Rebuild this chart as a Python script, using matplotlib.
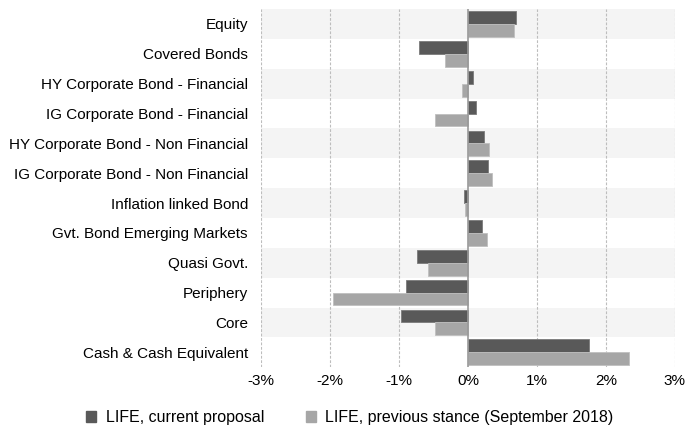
import numpy as np
import matplotlib.pyplot as plt
from matplotlib.patches import Patch

plt.rcParams['font.family'] = ['Liberation Sans', 'DejaVu Sans']

categories = ['Equity', 'Covered Bonds', 'HY Corporate Bond - Financial',
              'IG Corporate Bond - Financial', 'HY Corporate Bond - Non Financial',
              'IG Corporate Bond - Non Financial', 'Inflation linked Bond',
              'Gvt. Bond Emerging Markets', 'Quasi Govt.', 'Periphery', 'Core',
              'Cash & Cash Equivalent']
current = [0.69, -0.715, 0.07, 0.115, 0.23, 0.29, -0.06, 0.21, -0.745, -0.895, -0.97, 1.755]
previous = [0.665, -0.34, -0.085, -0.48, 0.30, 0.355, -0.045, 0.28, -0.575, -1.955, -0.475, 2.34]
ticks = [-3, -2, -1, 0, 1, 2, 3]
tick_labels = ['-3%', '-2%', '-1%', '0%', '1%', '2%', '3%']

fig = plt.figure(figsize=(7, 4.32), dpi=100)
ax = fig.add_axes([0.373, 0.150, 0.591, 0.829])

y = np.arange(len(categories))
h = 0.43

# alternating row bands
for i in y:
    if i % 2 == 0:
        ax.axhspan(i - 0.5, i + 0.5, color='#f4f4f4', zorder=0, lw=0)

for t in ticks:
    if t != 0:
        ax.axvline(t, color='#bdbdbd', lw=0.8, ls=(0, (2.5, 1.5)), zorder=1)
ax.axvline(0, color='#999999', lw=1.2, zorder=4)

ax.barh(y - h / 2, current, height=h, color='#595959', edgecolor='#7a7a7a', lw=0.6, zorder=3)
ax.barh(y + h / 2, previous, height=h, color='#a6a6a6', edgecolor='#c0c0c0', lw=0.6, zorder=3)

ax.set_ylim(len(categories) - 0.5, -0.5)
ax.set_xlim(-3, 3)
ax.set_yticks(y)
ax.set_yticklabels(categories, fontsize=11)
ax.set_xticks(ticks)
ax.set_xticklabels(tick_labels, fontsize=11)
ax.tick_params(length=0)
ax.tick_params(axis='y', pad=9.5)
ax.tick_params(axis='x', pad=5)
for s in ax.spines.values():
    s.set_visible(False)

handles = [Patch(color='#595959', label='LIFE, current proposal'),
           Patch(color='#a6a6a6', label='LIFE, previous stance (September 2018)')]
fig.legend(handles=handles, loc='center', bbox_to_anchor=(0.5, 0.033), ncol=2,
           frameon=False, fontsize=11.5, handlelength=0.63, handleheight=0.63,
           handletextpad=0.6, columnspacing=2.6)

fig.savefig('out.png', dpi=100)
